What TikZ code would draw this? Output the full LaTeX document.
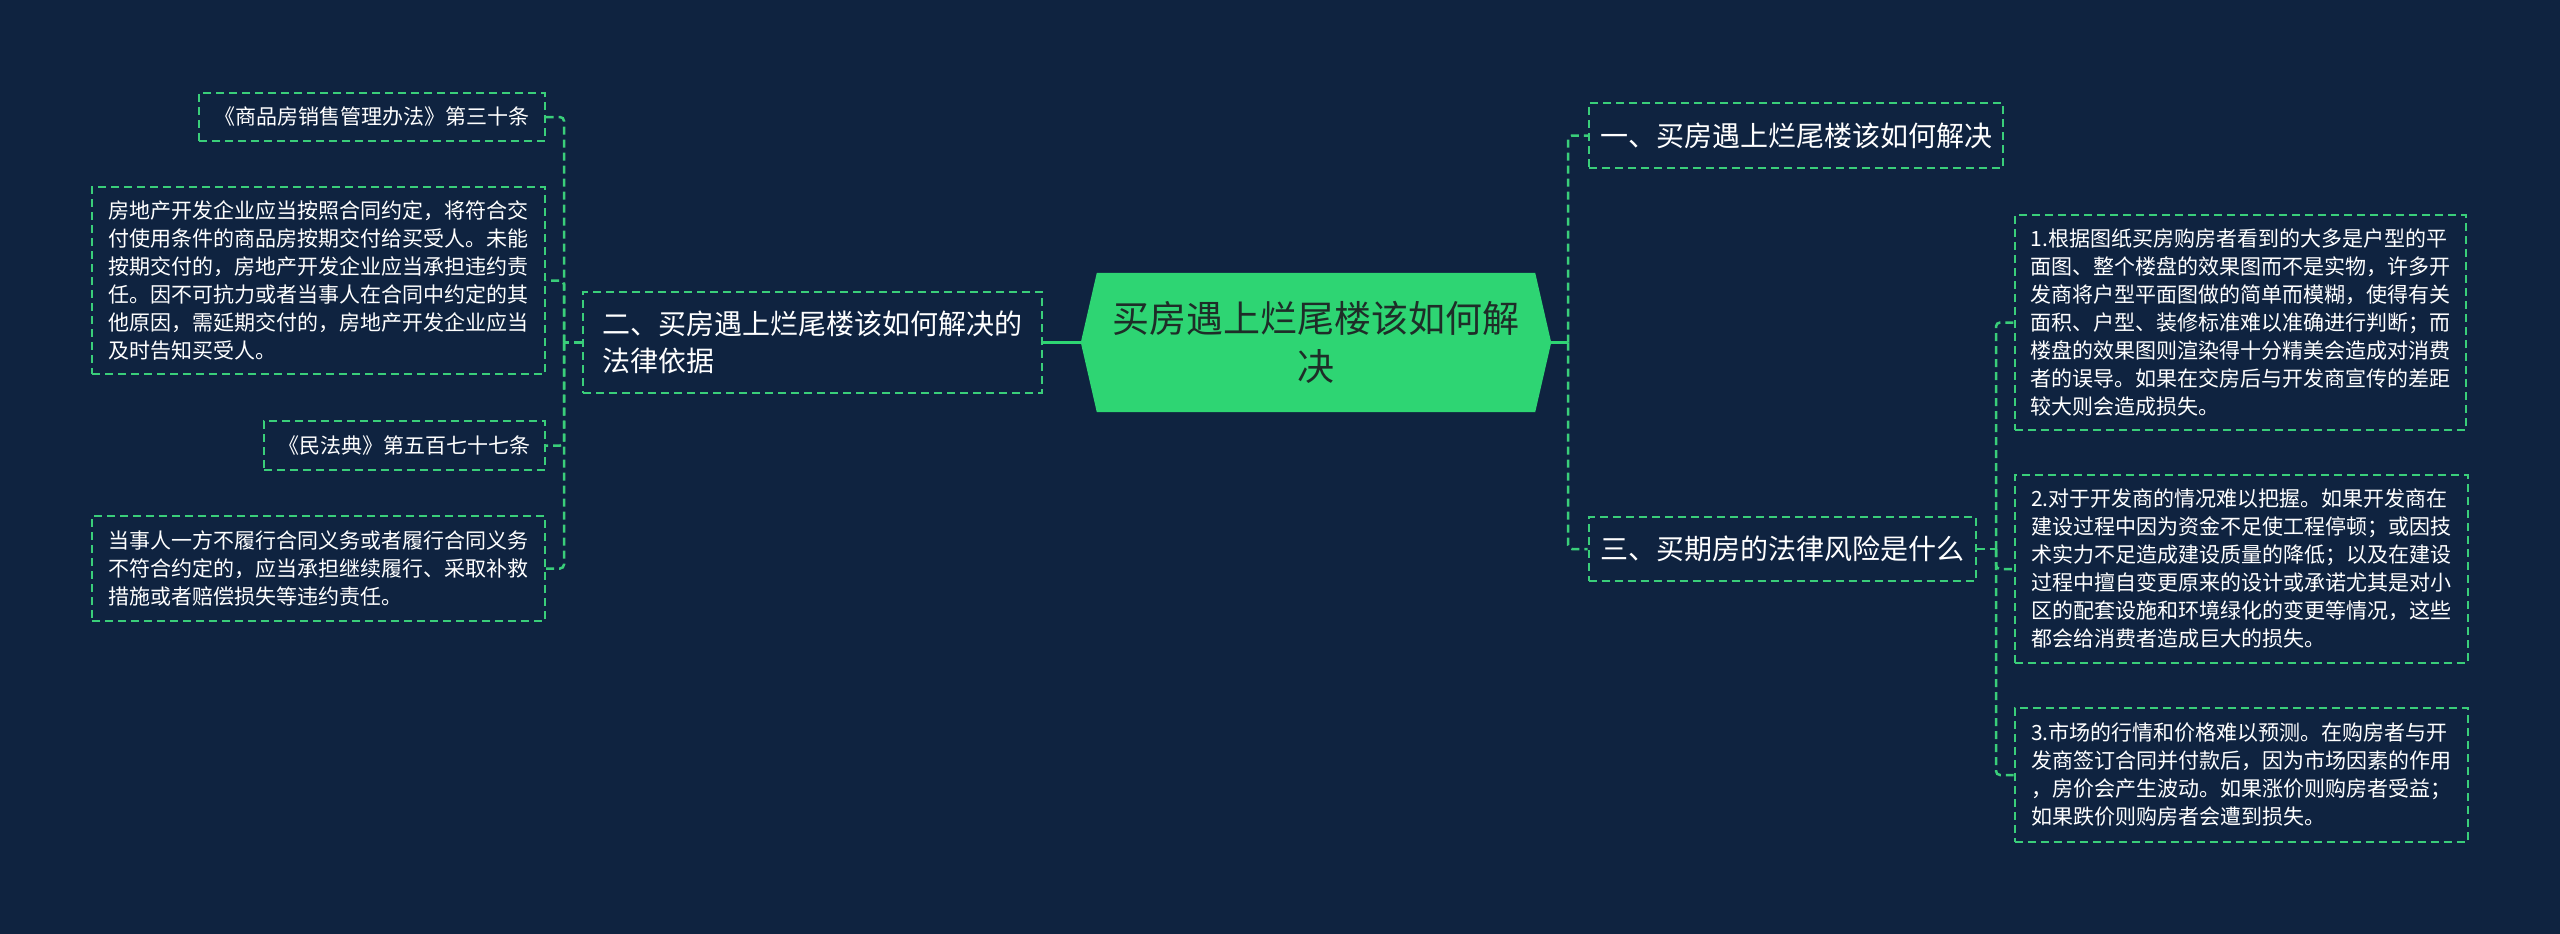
\documentclass[tikz,border=0pt]{standalone}
\usepackage{fontspec}
\setmainfont{Noto Sans CJK SC}
\usepackage{tikz}
\usetikzlibrary{calc, backgrounds}
\definecolor{bgnavy}{RGB}{15,35,64}
\definecolor{mapgreen}{RGB}{46,213,115}
\definecolor{linegreen}{RGB}{58,206,122}
\definecolor{roottext}{RGB}{30,45,40}

\begin{document}
\begin{tikzpicture}[x=1pt, y=-1pt,
  box/.style={draw=linegreen, line width=2pt, dash pattern=on 8pt off 5pt,
    text=white, align=left, inner sep=0pt},
  leaf/.style={box, font=\fontsize{21}{28}\selectfont},
  branch/.style={box, font=\fontsize{28}{36.5}\selectfont},
  rootbox/.style={inner sep=0pt, minimum width=438pt, minimum height=139pt,
    align=center, text=roottext, font=\fontsize{37}{48}\selectfont},
  link/.style={draw=linegreen, line width=2.5pt, dash pattern=on 8pt off 5pt,
    rounded corners=4pt},
  stub/.style={draw=mapgreen, line width=3pt}]
  \useasboundingbox (0,0) rectangle (2560,934);
  \begin{scope}[on background layer]
    \fill[bgnavy] (0,0) rectangle (2560,934);
  \end{scope}

  \node[rootbox] (root) at (1316,342.5) {买房遇上烂尾楼该如何解\\决};
  \coordinate (rootE) at ($(root.east)+(16,0)$);
  \coordinate (rootW) at ($(root.west)+(-16,0)$);
  \begin{scope}[on background layer]
    \fill[mapgreen] (root.north west) -- (root.north east) -- (rootE)
      -- (root.south east) -- (root.south west) -- (rootW) -- cycle;
  \end{scope}

  \node[branch, minimum width=414pt, minimum height=65pt] (buy) at (1796,135.5)
    {一、买房遇上烂尾楼该如何解决};
  \node[branch, minimum width=387pt, minimum height=64pt] (risk) at (1782,549)
    {三、买期房的法律风险是什么};
  \node[branch, minimum width=459pt, minimum height=101pt] (law) at (812.5,342.5)
    {二、买房遇上烂尾楼该如何解决的\\法律依据};

  \node[leaf, minimum width=451pt, minimum height=215pt] (drawing) at (2240.5,322.5)
    {1.根据图纸买房购房者看到的大多是户型的平\\
     面图、整个楼盘的效果图而不是实物，许多开\\
     发商将户型平面图做的简单而模糊，使得有关\\
     面积、户型、装修标准难以准确进行判断；而\\
     楼盘的效果图则渲染得十分精美会造成对消费\\
     者的误导。如果在交房后与开发商宣传的差距\\
     较大则会造成损失。};
  \node[leaf, minimum width=453pt, minimum height=188pt] (developer) at (2241,569)
    {2.对于开发商的情况难以把握。如果开发商在\\
     建设过程中因为资金不足使工程停顿；或因技\\
     术实力不足造成建设质量的降低；以及在建设\\
     过程中擅自变更原来的设计或承诺尤其是对小\\
     区的配套设施和环境绿化的变更等情况，这些\\
     都会给消费者造成巨大的损失。};
  \node[leaf, minimum width=453pt, minimum height=134pt] (market) at (2241,775)
    {3.市场的行情和价格难以预测。在购房者与开\\
     发商签订合同并付款后，因为市场因素的作用\\
     ，房价会产生波动。如果涨价则购房者受益；\\
     如果跌价则购房者会遭到损失。};

  \node[leaf, minimum width=346pt, minimum height=48pt] (salesrule) at (372,117)
    {《商品房销售管理办法》第三十条};
  \node[leaf, minimum width=453pt, minimum height=187pt] (salestext) at (318.5,280.5)
    {房地产开发企业应当按照合同约定，将符合交\\
     付使用条件的商品房按期交付给买受人。未能\\
     按期交付的，房地产开发企业应当承担违约责\\
     任。因不可抗力或者当事人在合同中约定的其\\
     他原因，需延期交付的，房地产开发企业应当\\
     及时告知买受人。};
  \node[leaf, minimum width=281pt, minimum height=49pt] (civilrule) at (404.5,445.5)
    {《民法典》第五百七十七条};
  \node[leaf, minimum width=453pt, minimum height=105pt] (civiltext) at (318.5,568.5)
    {当事人一方不履行合同义务或者履行合同义务\\
     不符合约定的，应当承担继续履行、采取补救\\
     措施或者赔偿损失等违约责任。};

  \coordinate (rj) at (1568,342.5);
  \coordinate (lj) at (564,342.5);
  \coordinate (tj) at (1996,549);

  \draw[stub] (rootE) -- (rj);
  \draw[stub] (rootW) -- (law.east);
  \draw[link] (rj) |- (buy.west);
  \draw[link] (rj) |- (risk.west);

  \draw[link] (law.west) -- (lj);
  \draw[link] (lj) |- (salesrule.east);
  \draw[link] (lj) |- (salestext.east);
  \draw[link] (lj) |- (civilrule.east);
  \draw[link] (lj) |- (civiltext.east);

  \draw[link] (risk.east) -- (tj);
  \draw[link] (tj) |- (drawing.west);
  \draw[link] (tj) |- (developer.west);
  \draw[link] (tj) |- (market.west);
\end{tikzpicture}
\end{document}
